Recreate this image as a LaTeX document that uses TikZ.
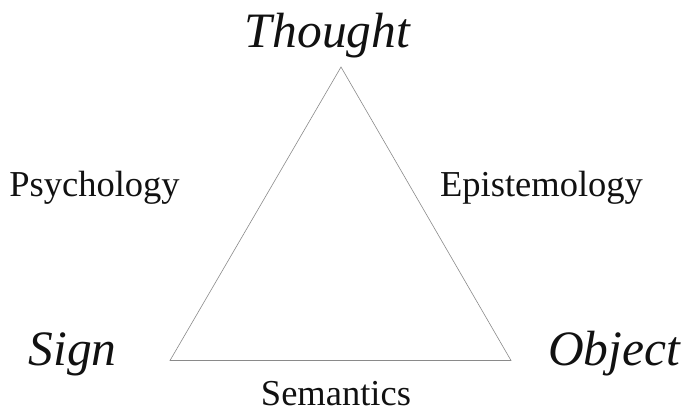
\documentclass[tikz,border=0pt]{standalone}
\usepackage{fontspec}
\setmainfont{Liberation Serif}
\usetikzlibrary{positioning}
\definecolor{ink}{HTML}{111111}
\definecolor{edgegray}{HTML}{8A8A8A}
\tikzset{
  corner/.style={font=\fontsize{49.5}{50}\itshape\selectfont,text=ink,
    anchor=base,inner sep=0pt},
  field/.style={font=\fontsize{36.5}{38}\selectfont,text=ink,
    anchor=base,inner sep=0pt},
  side/.style={draw=edgegray,line width=.6pt,line join=miter},
}

\begin{document}
\begin{tikzpicture}[x=1pt,y=1pt]
\useasboundingbox (0,0) rectangle (684,413);

% vertices of the triangle
\coordinate (apex) at (341,346);
\coordinate (lefttip) at (170,52.5);
\coordinate (righttip) at (511,52.5);
\draw[side] (apex) -- (lefttip) -- (righttip) -- cycle;

\node[corner] (thought) at (327.5,365) {Thought};
\node[corner] (sign) at (72.5,48) {Sign};
\node[corner] (object) at (614,48) {Object};

\node[field] (psychology) at (94.5,217) {Psychology};
\node[field] (episteme) at (541.5,217) {Epistemology};
\node[field] (semantics) at (336,7.5) {Semantics};
\end{tikzpicture}
\end{document}
